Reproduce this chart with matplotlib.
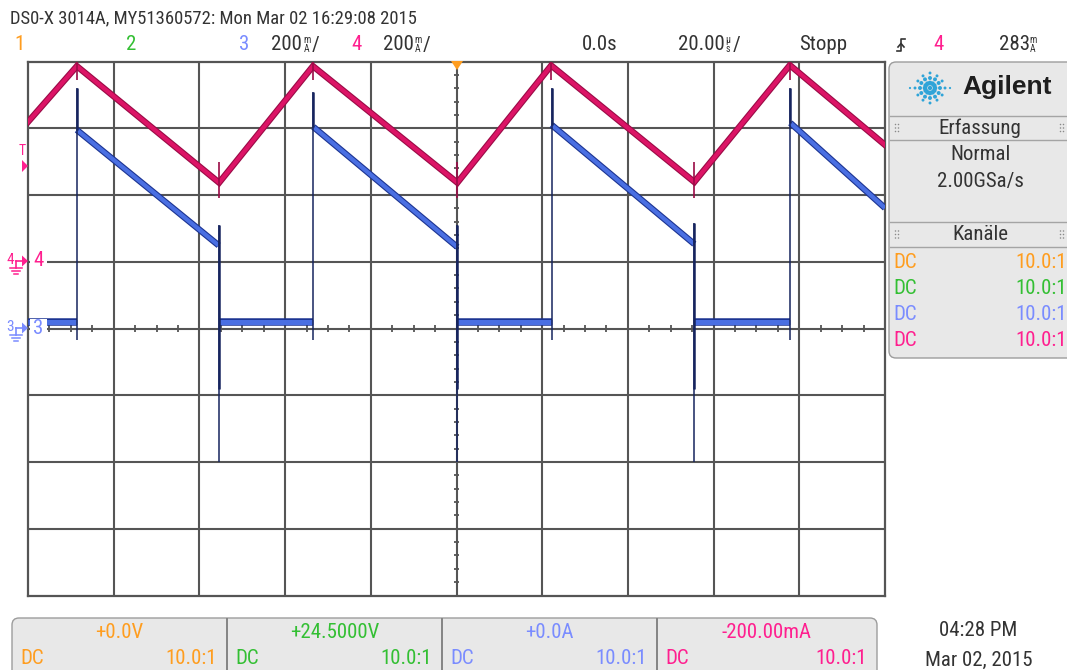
import numpy as np
import matplotlib
matplotlib.use("Agg")
import matplotlib.pyplot as plt
import matplotlib.patheffects as pe
from matplotlib import font_manager
from matplotlib.patches import FancyBboxPatch, Polygon, Rectangle

# ---------------------------------------------------------------- fonts
_installed = {f.name for f in font_manager.fontManager.ttflist}
_narrow = ["Roboto Condensed", "Archivo Narrow", "PT Sans Narrow", "Liberation Sans Narrow",
           "Liberation Sans"]
NARROW = [f for f in _narrow if f in _installed]
plt.rcParams["font.family"] = NARROW + ["DejaVu Sans"]

# ---------------------------------------------------------------- data
# channel 4 (inductor current, mA): corner points of the triangle wave, time in µs
ch4_t = [-100.0, -88.6, -55.4, -33.5, 0.2, 22.1, 55.5, 77.8, 100.0]
ch4_ma = [419, 586, 237, 586, 237, 588, 239, 589, 350]

# channel 3 (diode current, mA): ramp start / end points of each conduction interval
ch3_on_t = [-88.6, -33.4, 22.2, 77.9]
ch3_on_ma = [595, 604, 610, 616]
ch3_off_t = [-55.5, 0.2, 55.5, 100.0]
ch3_off_ma = [249, 244, 253, 361]
ch3_idle_ma = 20
# switching spikes on channel 3 (mA)
ch3_rise_spike_hi = [720, 709, 720, 720]
ch3_rise_spike_lo = [-34, -34, -34, -34]
ch3_fall_spike_hi = [310, 310, 316]
ch3_fall_spike_lo = [-400, -400, -400]
# switching spikes on channel 4 (mA)
ch4_peak_spike = [545, 600]
ch4_valley_spike = [191, 299]

# channel setup
ch3_scale_ma, ch3_offset_ma = 200, 0
ch4_scale_ma, ch4_offset_ma = 200, -200
ch_offset_labels = ["+0.0V", "+24.5000V", "+0.0A", "-200.00mA"]
probe_label = "10.0:1"
trigger_level = "283"

# ---------------------------------------------------------------- colours
ORANGE = "#ff9d1f"
GREEN = "#33bf33"
BLUE_T = "#7a8cff"
PINK_T = "#ff1f8f"
CH_COLORS = [ORANGE, GREEN, BLUE_T, PINK_T]
PINK = "#dc1466"
PINK_D = "#9a0b46"
BLUE = "#4a6fe2"
BLUE_D = "#1c3492"
NAVY = "#16245e"
GRID = "#555555"
TXT = "#333333"
PANEL = "#e8e8e8"
EDGE = "#9c9c9c"

W, H = 1067, 670
fig = plt.figure(figsize=(W / 100, H / 100), dpi=100)
fig.patch.set_facecolor("white")

# ---------------------------------------------------------------- scope screen
X0, X1, Y0, Y1 = 28, 885, 61.5, 595.5
ax = fig.add_axes([X0 / W, 1 - Y1 / H, (X1 - X0) / W, (Y1 - Y0) / H])
ax.set_xlim(-100, 100)
ax.set_ylim(-4, 4)
ax.set_xticks([])
ax.set_yticks([])
for s in ax.spines.values():
    s.set_color(GRID)
    s.set_linewidth(1.6)
for k in range(-4, 5):
    ax.axvline(k * 20, color=GRID, lw=1.5, zorder=1)
for k in range(-3, 4):
    ax.axhline(k, color=GRID, lw=1.5, zorder=1)

minor_t = [t for t in np.arange(-95, 100, 5) if t % 20 != 0]
ax.vlines(minor_t, -0.052, 0.052, color=GRID, lw=1.3, zorder=1)
minor_v = [v for v in np.arange(-3.8, 3.9, 0.2) if abs(v - round(v)) > 0.05]
ax.hlines(minor_v, -0.7, 0.7, color=GRID, lw=1.3, zorder=1)


def ch3_div(ma):
    return (np.asarray(ma, dtype=float) - ch3_offset_ma) / ch3_scale_ma


def ch4_div(ma):
    return (np.asarray(ma, dtype=float) - ch4_offset_ma) / ch4_scale_ma


pink_fx = [pe.Stroke(linewidth=4.6, foreground=PINK_D), pe.Normal()]
blue_fx = [pe.Stroke(linewidth=4.6, foreground=BLUE_D), pe.Normal()]

# channel 4 triangle wave
ax.plot(ch4_t, ch4_div(ch4_ma), color=PINK, lw=3.0, path_effects=pink_fx,
        solid_joinstyle="miter", zorder=4)
peaks_t = ch4_t[1::2]
valleys_t = ch4_t[2:-1:2]
ax.vlines(peaks_t, *ch4_div(ch4_peak_spike), color=PINK_D, lw=1.2, zorder=4)
ax.vlines(valleys_t, *ch4_div(ch4_valley_spike), color=PINK_D, lw=1.2, zorder=4)

# channel 3: idle segments and falling ramps
idle_start = [-100.0] + ch3_off_t[:-1]
idle_end = ch3_on_t
for a, b in zip(idle_start, idle_end):
    ax.plot([a, b], ch3_div([ch3_idle_ma, ch3_idle_ma]), color=BLUE, lw=3.6,
            path_effects=[pe.Stroke(linewidth=5.4, foreground=BLUE_D), pe.Normal()],
            solid_capstyle="butt", zorder=3)
for t0, i0, t1, i1 in zip(ch3_on_t, ch3_on_ma, ch3_off_t, ch3_off_ma):
    ax.plot([t0, t1], ch3_div([i0, i1]), color=BLUE, lw=3.0, path_effects=blue_fx,
            solid_capstyle="butt", zorder=3)

# channel 3 switching spikes
ax.vlines(ch3_on_t, ch3_div(ch3_rise_spike_lo), ch3_div(ch3_rise_spike_hi),
          color=NAVY, lw=1.1, zorder=5)
ax.vlines(ch3_on_t, ch3_div(ch3_on_ma), ch3_div(ch3_rise_spike_hi),
          color=NAVY, lw=1.8, zorder=5)
ax.vlines(ch3_off_t[:3], ch3_div(ch3_fall_spike_lo), ch3_div(ch3_fall_spike_hi),
          color=NAVY, lw=1.1, zorder=5)
ax.vlines(ch3_off_t[:3], ch3_div([-180, -180, -180]), ch3_div(ch3_fall_spike_hi),
          color=NAVY, lw=1.8, zorder=5)

# ---------------------------------------------------------------- overlay in pixel units
ov = fig.add_axes([0, 0, 1, 1], zorder=10)
ov.set_xlim(0, W)
ov.set_ylim(H, 0)
ov.axis("off")
ov.patch.set_alpha(0)

FS = 15


def txt(x, y, s, color=TXT, ha="left", size=FS, **kw):
    ov.text(x, y, s, color=color, ha=ha, va="center", fontsize=size, **kw)


def stacked(x, y, top, bottom, color=TXT):
    ov.text(x, y - 4.6, top, color=color, ha="center", va="center", fontsize=7)
    ov.text(x, y + 4.2, bottom, color=color, ha="center", va="center", fontsize=7)


# header
txt(10, 18, "DS0-X 3014A, MY51360572: Mon Mar 02 16:29:08 2015", size=13.4)
RY = 45
txt(14, RY, "1", ORANGE)
txt(126, RY, "2", GREEN)
txt(239, RY, "3", BLUE_T)
txt(271, RY, str(ch3_scale_ma))
stacked(307, RY, "m", "A")
txt(312, RY, "/")
txt(351, RY, "4", PINK_T)
txt(383, RY, str(ch4_scale_ma))
stacked(418, RY, "m", "A")
txt(423, RY, "/")
txt(582, RY, "0.0s")
txt(678, RY, "20.00")
stacked(728, RY, "µ", "s")
txt(733, RY, "/")
txt(799, RY, "Stopp")
# rising-edge trigger symbol
ov.plot([897, 901, 901, 905], [51, 51, 39, 39], color=TXT, lw=1.2)
ov.plot([898, 901, 904], [47, 43.5, 47], color=TXT, lw=1.2)
txt(933, RY, "4", PINK_T)
txt(999, RY, trigger_level)
stacked(1033, RY, "m", "A")

# trigger time marker
ov.add_patch(Polygon([(451, 61), (463, 61), (457, 70)], closed=True, fc=ORANGE, ec="none"))

# left edge markers
txt(22.5, 151, "T", PINK_T, ha="center", size=10)
ov.add_patch(Polygon([(22, 160), (28, 166), (22, 172)], closed=True, fc=PINK_T, ec="none"))


def ground_marker(y, label, color):
    txt(10, y - 1, label, color, ha="center", size=11)
    ov.plot([16, 24], [y, y], color=color, lw=1.2)
    ov.add_patch(Polygon([(22, y - 5.5), (28, y), (22, y + 5.5)], closed=True, fc=color, ec="none"))
    ov.plot([16, 16], [y, y + 7], color=color, lw=1.2)
    for k, half in enumerate([6, 4, 2]):
        ov.plot([16 - half, 16 + half], [y + 7 + 3 * k, y + 7 + 3 * k], color=color, lw=1.1)
    ov.add_patch(Rectangle((29.5, y - 9), 17.5, 18, fc="white", ec="none"))
    txt(38, y, label, color, ha="center", size=FS)


ground_marker(261, "4", PINK_T)
ground_marker(328, "3", BLUE_T)

# ---------------------------------------------------------------- side panel
ov.add_patch(FancyBboxPatch((889, 62), 200, 296, boxstyle="round,pad=0,rounding_size=7",
                            fc=PANEL, ec=EDGE, lw=1.0))
for yy in [116, 140, 222, 247]:
    ov.plot([889.5, 1067], [yy, yy], color="#a4a4a4", lw=1.0)

# logo: radiating dots
cx, cy = 930, 88
for ang in range(0, 360, 30):
    a = np.deg2rad(ang)
    reach = [5, 10, 15, 20] if ang % 180 == 0 else ([5, 10, 15] if ang % 90 == 0 else [5, 10, 14])
    for j, r in enumerate(reach):
        ov.scatter(cx + r * np.cos(a), cy - r * np.sin(a),
                   s=[11, 8, 4.5, 2.5][j], color="#2fa4d8", edgecolors="none", zorder=12)
ov.scatter([cx], [cy], s=10, color="#2fa4d8", edgecolors="none", zorder=12)
ov.text(1007, 87, "Agilent", ha="center", va="center", fontsize=19, fontweight="bold",
        color="#1e1e1e", family=["Liberation Sans", "DejaVu Sans"])

for gx in [895.5, 1060.5]:
    ov.scatter([gx, gx + 3, gx, gx + 3, gx, gx + 3], [124.5, 124.5, 128, 128, 131.5, 131.5],
               s=1.2, color="#8a8a8a", edgecolors="none")
    ov.scatter([gx, gx + 3, gx, gx + 3, gx, gx + 3], [231, 231, 234.5, 234.5, 238, 238],
               s=1.2, color="#8a8a8a", edgecolors="none")
txt(980, 128, "Erfassung", ha="center")
txt(980, 154, "Normal", ha="center")
txt(980, 181, "2.00GSa/s", ha="center")
txt(980, 235, "Kanäle", ha="center")
for k, col in enumerate(CH_COLORS):
    yy = 262 + 26.3 * k
    txt(893, yy, "DC", col)
    txt(1067, yy, probe_label, col, ha="right")

# ---------------------------------------------------------------- channel bar
ov.add_patch(FancyBboxPatch((12, 618), 865, 80, boxstyle="round,pad=0,rounding_size=7",
                            fc=PANEL, ec=EDGE, lw=1.0))
sections = [12, 227, 442, 657, 877]
for xx in sections[1:-1]:
    ov.plot([xx, xx], [618.5, 670], color="#7c7c7c", lw=1.3)
for k in range(4):
    left, right = sections[k], sections[k + 1]
    txt((left + right) / 2, 633, ch_offset_labels[k], CH_COLORS[k], ha="center")
    txt(left + 8, 659, "DC", CH_COLORS[k])
    txt(right - 10, 659, probe_label, CH_COLORS[k], ha="right")

txt(978, 631, "04:28 PM", ha="center")
txt(979, 660, "Mar 02, 2015", ha="center")

fig.savefig("out.png", dpi=100, facecolor="white")
